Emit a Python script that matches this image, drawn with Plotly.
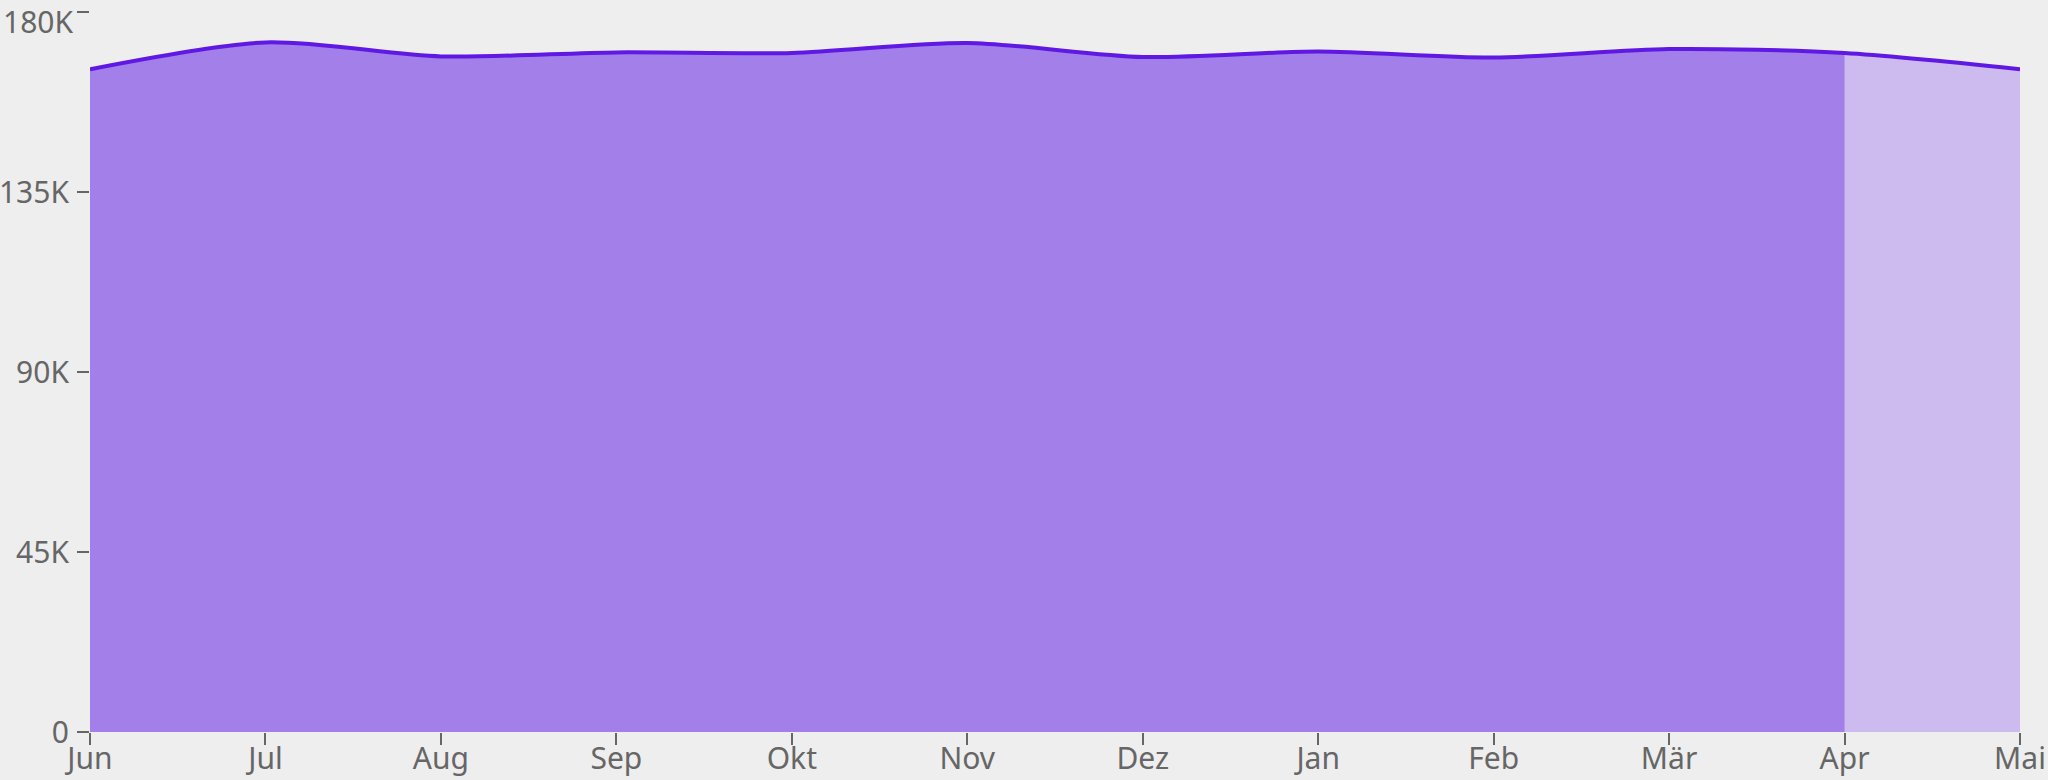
import plotly.graph_objects as go

months = ["Jun", "Jul", "Aug", "Sep", "Okt", "Nov", "Dez", "Jan", "Feb", "Mär", "Apr", "Mai"]
values = [165700, 172400, 168900, 169900, 169750, 172250, 168750, 170100, 168600, 170750, 169750, 165700]
actual_count = 11  # Jun..Apr are actual; Apr..Mai is projected
y_tickvals = [0, 45000, 90000, 135000, 180000]
y_ticktext = ["0", "45K", "90K", "135K", "180K"]

LINE = "#6019e3"
DARK = "#a27fe9"
LIGHT = "#cdbbef"
TEXT = "#666666"
BG = "#eeeeee"
FONT = "Noto Sans"
FS = 30

fig = go.Figure()
fig.add_trace(go.Scatter(
    x=months, y=values, mode="lines", fill="tozeroy",
    fillcolor=LIGHT, line=dict(width=0, shape="spline", smoothing=0.8),
    hoverinfo="skip", showlegend=False))
fig.add_trace(go.Scatter(
    x=months[:actual_count], y=values[:actual_count], mode="lines", fill="tozeroy",
    fillcolor=DARK, line=dict(width=0, shape="spline", smoothing=0.8),
    hoverinfo="skip", showlegend=False))
fig.add_trace(go.Scatter(
    x=months, y=values, mode="lines",
    line=dict(color=LINE, width=4, shape="spline", smoothing=0.8),
    showlegend=False))

# top tick label is nudged down in the reference so it stays inside the frame
shown_ticktext = y_ticktext[:-1] + [""]
fig.add_annotation(
    text=y_ticktext[-1], xref="paper", x=0, xanchor="right", xshift=-16,
    yref="y", y=y_tickvals[-1], yanchor="middle", yshift=-9, showarrow=False,
    borderpad=0, font=dict(family=FONT, size=FS, color=TEXT))

fig.update_layout(
    width=2048, height=780, autosize=False,
    margin=dict(l=90, r=28, t=12, b=48, pad=0),
    paper_bgcolor=BG, plot_bgcolor=BG,
    font=dict(family=FONT, size=FS, color=TEXT),
    xaxis=dict(
        type="category", categoryorder="array", categoryarray=months,
        range=[0, len(months) - 1], showgrid=False, zeroline=False, showline=False,
        ticks="outside", ticklen=12, tickwidth=2, tickcolor=TEXT,
        tickfont=dict(family=FONT, size=FS, color=TEXT), automargin=False,
        ticklabelstandoff=-12, ticklabeloverflow="allow",
    ),
    yaxis=dict(
        range=[0, 180000], tickvals=y_tickvals, ticktext=shown_ticktext,
        showgrid=True, gridcolor="#e1e5ec", gridwidth=1,
        zeroline=False, showline=False,
        ticks="outside", ticklen=12, tickwidth=2, tickcolor=TEXT,
        tickfont=dict(family=FONT, size=FS, color=TEXT), ticklabelstandoff=2,
        automargin=False, ticklabeloverflow="allow",
    ),
)

fig.write_html("out.html", config={"displayModeBar": False},
               post_script="document.body.style.margin='0';document.body.style.overflow='hidden';")
